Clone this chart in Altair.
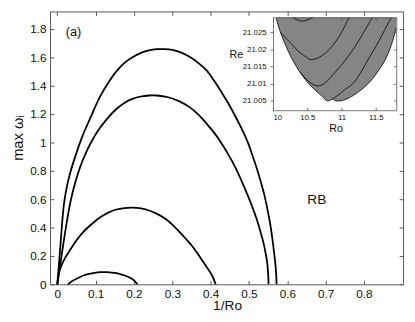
import altair as alt
import pandas as pd

FONT = "Liberation Sans"

# ---------------- main panel data ----------------
c1_x = [0.0, 0.008, 0.017, 0.025, 0.034, 0.048, 0.065, 0.085, 0.111, 0.133, 0.154, 0.175, 0.196,
        0.218, 0.239, 0.26, 0.28, 0.30, 0.32, 0.344, 0.37, 0.39, 0.41, 0.429, 0.447, 0.465, 0.482,
        0.497, 0.51, 0.52, 0.53, 0.54, 0.548, 0.555, 0.561, 0.566, 0.570, 0.572]
c1_y = [0.0, 0.27, 0.56, 0.69, 0.79, 0.91, 1.04, 1.165, 1.32, 1.42, 1.50, 1.56, 1.60,
        1.63, 1.648, 1.656, 1.657, 1.651, 1.636, 1.605, 1.555, 1.505, 1.43, 1.35, 1.27, 1.18, 1.09,
        1.0, 0.9, 0.82, 0.73, 0.63, 0.53, 0.43, 0.32, 0.21, 0.11, 0.0]

c2_x = [0.0, 0.011, 0.022, 0.034, 0.047, 0.060, 0.072, 0.085, 0.103, 0.128, 0.154, 0.175, 0.196,
        0.218, 0.239, 0.26, 0.281, 0.30, 0.32, 0.344, 0.37, 0.39, 0.41, 0.429, 0.447, 0.465, 0.482,
        0.497, 0.51, 0.52, 0.53, 0.538, 0.544, 0.548, 0.55, 0.551]
c2_y = [0.0, 0.20, 0.394, 0.578, 0.72, 0.83, 0.91, 0.985, 1.07, 1.16, 1.235, 1.278, 1.306,
        1.323, 1.330, 1.330, 1.322, 1.309, 1.287, 1.25, 1.19, 1.13, 1.065, 0.99, 0.91, 0.82, 0.72,
        0.625, 0.535, 0.46, 0.37, 0.29, 0.21, 0.14, 0.07, 0.0]

c3_x = [0.0, 0.004, 0.012, 0.021, 0.034, 0.05, 0.068, 0.09, 0.111, 0.133, 0.154, 0.175, 0.196, 0.218,
        0.239, 0.259, 0.281, 0.302, 0.327, 0.35, 0.365, 0.38, 0.395, 0.405, 0.413]
c3_y = [0.0, 0.08, 0.14, 0.19, 0.245, 0.31, 0.37, 0.425, 0.47, 0.505, 0.527, 0.537, 0.540, 0.535,
        0.520, 0.498, 0.463, 0.415, 0.345, 0.275, 0.22, 0.16, 0.10, 0.055, 0.0]

c4_x = [0.028, 0.04, 0.055, 0.068, 0.09, 0.111, 0.13, 0.154, 0.172, 0.187, 0.2, 0.209]
c4_y = [0.0, 0.025, 0.045, 0.062, 0.077, 0.085, 0.086, 0.078, 0.065, 0.05, 0.028, 0.0]

x_ticks = [0, 0.1, 0.2, 0.3, 0.4, 0.5, 0.6, 0.7, 0.8]
y_ticks = [0, 0.2, 0.4, 0.6, 0.8, 1.0, 1.2, 1.4, 1.6, 1.8]

label_a = ["(a)"]
label_a_x = [0.042]
label_a_y = [1.78]
label_rb = ["RB"]
label_rb_x = [0.677]
label_rb_y = [0.594]

# ---------------- inset data ----------------
b_x = [10.047, 10.1, 10.157, 10.25, 10.347, 10.44, 10.538, 10.63, 10.729, 10.776, 10.824, 10.871,
       10.905, 10.943, 11.0, 11.11, 11.25, 11.396, 11.52, 11.633, 11.72, 11.8]
b_y = [21.0291, 21.0255, 21.0225, 21.0183, 21.0148, 21.0120, 21.0096, 21.0078, 21.0061, 21.0051,
       21.0050, 21.0055, 21.0050, 21.0049, 21.0050, 21.0058, 21.0076, 21.0101, 21.0132, 21.0167,
       21.0208, 21.0263]
inset_top = 21.0294

ka_x = [10.28, 10.36, 10.42, 10.5, 10.585]
ka_y = [21.0294, 21.0286, 21.0283, 21.0286, 21.0294]

kb_x = [10.11, 10.18, 10.253, 10.38, 10.49, 10.539, 10.62, 10.7, 10.776, 10.87, 10.967, 11.04, 11.11]
kb_y = [21.0250, 21.0234, 21.0220, 21.0193, 21.0177, 21.0171, 21.0172, 21.0180, 21.0191, 21.0211,
        21.0239, 21.0265, 21.0294]

kc_x = [10.40, 10.5, 10.6, 10.657, 10.75, 10.871, 11.0, 11.11, 11.23, 11.347, 11.40, 11.45]
kc_y = [21.0133, 21.0110, 21.0096, 21.0093, 21.0100, 21.0125, 21.0155, 21.0183, 21.0218, 21.0258,
        21.0276, 21.0294]

kd_x = [10.87, 10.95, 11.06, 11.157, 11.28, 11.396, 11.52, 11.633, 11.70, 11.73]
kd_y = [21.0055, 21.0066, 21.0084, 21.0098, 21.0132, 21.0173, 21.0215, 21.0258, 21.0283, 21.0294]

ix_ticks = [10, 10.5, 11, 11.5]
iy_ticks = [21.005, 21.01, 21.015, 21.02, 21.025]


def series(xs, ys, name):
    return pd.DataFrame({"x": xs, "y": ys, "curve": name, "order": list(range(len(xs)))})


df_main = pd.concat([series(c1_x, c1_y, "c1"), series(c2_x, c2_y, "c2"),
                     series(c3_x, c3_y, "c3"), series(c4_x, c4_y, "c4")], ignore_index=True)
df_a = pd.DataFrame({"x": label_a_x, "y": label_a_y, "label": label_a})
df_rb = pd.DataFrame({"x": label_rb_x, "y": label_rb_y, "label": label_rb})

df_bound = series(b_x, b_y, "boundary")
df_bound["top"] = inset_top
df_cont = pd.concat([series(ka_x, ka_y, "a"), series(kb_x, kb_y, "b"),
                     series(kc_x, kc_y, "c"), series(kd_x, kd_y, "d")], ignore_index=True)

W, H = 361, 279
FRAME = "#555555"
TXT = "#111111"
INTERP = "catmull-rom"

mx = alt.Scale(domain=[-0.019, 0.902], nice=False, zero=False)
my = alt.Scale(domain=[0, 1.922], nice=False, zero=False)

curves = alt.Chart(df_main).mark_line(color="black", strokeWidth=1.8, interpolate=INTERP).encode(
    x=alt.X("x:Q", scale=mx, axis=alt.Axis(
        orient="bottom", values=x_ticks, ticks=False, domain=False, grid=False,
        labelExpr="format(datum.value, '.1~f')", labelPadding=5, labelFontSize=12, labelColor=TXT,
        title="1/Ro", titleX=181, titleY=22, titleBaseline="middle", titleAlign="center",
        titleFontSize=14, titleFontWeight="normal", titleColor=TXT)),
    y=alt.Y("y:Q", scale=my, axis=alt.Axis(
        orient="left", values=y_ticks, ticks=False, domain=False, grid=False,
        labelExpr="format(datum.value, '.1~f')", labelPadding=4, labelFontSize=12, labelColor=TXT,
        title="max ωᵢ", titleX=-33, titleY=129, titleAngle=270, titleAlign="center",
        titleBaseline="middle", titleFontSize=15, titleFontWeight="normal", titleColor=TXT)),
    detail="curve:N",
    order="order:Q",
)

text_a = alt.Chart(df_a).mark_text(fontSize=13, color=TXT, align="center", baseline="middle").encode(
    x=alt.X("x:Q", scale=mx, title=None, axis=alt.Axis(
        orient="top", offset=-H, values=x_ticks, labels=False, domain=False, grid=False,
        tickSize=4, tickColor=FRAME)),
    y=alt.Y("y:Q", scale=my, title=None, axis=alt.Axis(
        orient="right", offset=-W, values=y_ticks, labels=False, domain=False, grid=False,
        tickSize=4, tickColor=FRAME)),
    text="label:N",
)

text_rb = alt.Chart(df_rb).mark_text(fontSize=14, color=TXT, align="center", baseline="middle").encode(
    x=alt.X("x:Q", scale=mx, title=None, axis=alt.Axis(
        orient="bottom", offset=-H, values=x_ticks, labels=False, domain=False, grid=False,
        tickSize=4, tickColor=FRAME)),
    y=alt.Y("y:Q", scale=my, title=None, axis=alt.Axis(
        orient="left", offset=-W, values=y_ticks, labels=False, domain=False, grid=False,
        tickSize=4, tickColor=FRAME)),
    text="label:N",
)

main = alt.layer(curves, text_a, text_rb).resolve_axis(x="independent", y="independent")

# ---------------- inset ----------------
IL, IR, IT, IB = 228, 354, 6, 101
ix = alt.Scale(domain=[10, 11.8], range=[IL, IR], nice=False, zero=False)
iy = alt.Scale(domain=[21.0022, inset_top], range=[IB, IT], nice=False, zero=False)

area = alt.Chart(df_bound).mark_area(color="#858585", opacity=1, interpolate=INTERP).encode(
    x=alt.X("x:Q", scale=ix, axis=alt.Axis(
        orient="bottom", offset=-(H - IB), values=ix_ticks, ticks=False, domain=True,
        domainColor=FRAME, domainWidth=0.8, grid=False, zindex=2,
        labelExpr="format(datum.value, '.1~f')", labelPadding=3, labelFontSize=8, labelColor=TXT,
        title="Ro", titleX=292, titleY=19, titleBaseline="middle", titleAlign="center",
        titleFontSize=11, titleFontWeight="normal", titleColor=TXT)),
    y=alt.Y("y:Q", scale=iy, axis=alt.Axis(
        orient="left", offset=-IL, values=iy_ticks, ticks=True, tickSize=3, tickColor=FRAME,
        tickWidth=0.8, domain=True, domainColor=FRAME, domainWidth=0.8, grid=False, zindex=2,
        labelExpr="format(datum.value, '.3~f')", labelPadding=4, labelFontSize=8, labelColor=TXT,
        title="Re", titleX=-38, titleY=44, titleAngle=0, titleAlign="center", titleBaseline="middle",
        titleFontSize=11, titleFontWeight="normal", titleColor=TXT)),
    y2="top:Q",
)

contours = alt.Chart(df_cont).mark_line(color="black", strokeWidth=0.8, interpolate=INTERP).encode(
    x=alt.X("x:Q", scale=ix, title=None, axis=alt.Axis(
        orient="top", offset=-IB, values=ix_ticks, labels=False, domain=False, grid=False,
        tickSize=3, tickColor=FRAME, tickWidth=0.8, zindex=2)),
    y=alt.Y("y:Q", scale=iy, title=None, axis=alt.Axis(
        orient="left", offset=-IR, values=iy_ticks, labels=False, domain=True, domainColor=FRAME,
        domainWidth=0.8, grid=False, tickSize=3, tickColor=FRAME, tickWidth=0.8, zindex=2)),
    detail="curve:N",
    order="order:Q",
)

edge = alt.Chart(df_bound).mark_line(color="black", strokeWidth=0.8, interpolate=INTERP).encode(
    x=alt.X("x:Q", scale=ix, title=None, axis=alt.Axis(
        orient="bottom", offset=-(H - IT), values=ix_ticks, labels=False, domain=True,
        domainColor=FRAME, domainWidth=0.8, grid=False, tickSize=3, tickColor=FRAME,
        tickWidth=0.8, zindex=2)),
    y=alt.Y("y:Q", scale=iy, axis=None),
    order="order:Q",
)

inset = alt.layer(area, contours, edge).resolve_axis(x="independent", y="independent")

chart = alt.layer(main, inset).resolve_scale(x="independent", y="independent").properties(
    width=W, height=H,
    autosize=alt.AutoSizeParams(type="none"),
    padding={"left": 43, "top": 0, "right": 4, "bottom": 35},
).configure(font=FONT).configure_view(stroke=FRAME, strokeWidth=1)

chart.save("out.html", embed_options={"renderer": "svg", "actions": False})
